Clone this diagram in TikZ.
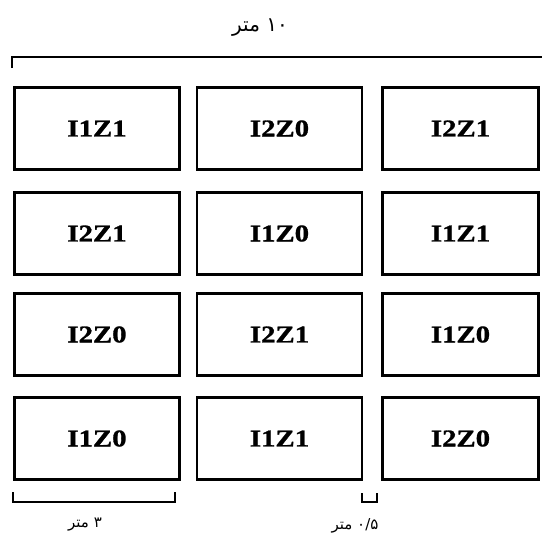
\documentclass[tikz,border=0pt]{standalone}
\usepackage{fontspec}
\setmainfont{Liberation Serif}
\newfontfamily\boxfont[FakeStretch=1.2, FakeBold=1.2]{Liberation Serif}
\newfontfamily\persianfont[Script=Arabic]{DejaVu Sans}
\TeXXeTstate=1

\tikzset{
	plotbox/.style={draw, line width=2.4pt, minimum width=165pt, minimum height=82pt, inner sep=0pt,
		font=\boxfont\bfseries\fontsize{24}{24}\selectfont},
	dimline/.style={line width=1.5pt},
	dimlabel/.style={inner sep=0pt, font=\persianfont\fontsize{15}{15}\selectfont}
}

\begin{document}
\begin{tikzpicture}[x=1pt,y=-1pt]
\useasboundingbox (0,0) rectangle (542,539);

%all plots, row by row
\foreach \y/\a/\b/\c [count=\r] in {128.5/I1Z1/I2Z0/I2Z1, 233.5/I2Z1/I1Z0/I1Z1, 334.5/I2Z0/I2Z1/I1Z0, 438.5/I1Z0/I1Z1/I2Z0}{
	\node[plotbox] (p\r-1) at (97,\y) {\a};
	\node[plotbox] (p\r-2) at (279.5,\y) {\b};
	\node[plotbox, minimum width=156pt] (p\r-3) at (460.5,\y) {\c};
}

%total length on top
\coordinate (tl) at (12,68);
\coordinate (tr) at (542,57);
\draw[dimline] (tl) -- (tl |- tr) -- (tr);
\node[dimlabel, font=\persianfont\fontsize{20}{20}\selectfont] (total) at (260,28) {\beginR\beginL ۱۰\endL{} متر\endR};

%plot width
\coordinate (wl) at (13,492);
\coordinate (wr) at (175,492);
\draw[dimline] (wl) -- ++(0,10) -| (wr);
\node[dimlabel] (width) at (85,525) {\beginR\beginL ۳\endL{} متر\endR};

%gap between plots
\coordinate (gl) at (362,493);
\coordinate (gr) at (377,493);
\draw[dimline] (gl) -- ++(0,9) -| (gr);
\node[dimlabel] (gap) at (355,526) {\beginR\beginL ۰/۵\endL{} متر\endR};
\end{tikzpicture}
\end{document}
